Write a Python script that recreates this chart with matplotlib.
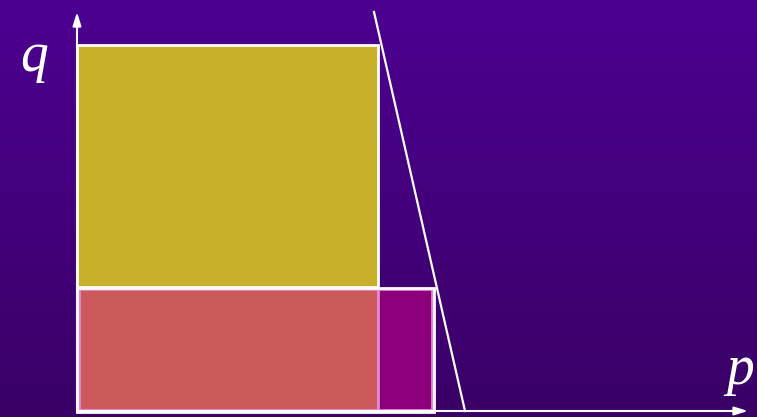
import matplotlib
matplotlib.use("Agg")
import matplotlib.pyplot as plt
import matplotlib.patches as patches
import numpy as np

# quantities and prices (arbitrary units)
p_low = 3.01
p_high = 3.57
q_high = 3.66
q_low = 1.24
demand_p = [2.97, 3.88]
demand_q = [3.99, 0.0]

fig = plt.figure(figsize=(7.57, 4.17), dpi=100)
ax = fig.add_axes([0, 0, 1, 1])
ax.set_xlim(-0.77, 6.80)
ax.set_ylim(-0.06, 4.11)
ax.axis('off')

# background gradient
top = np.array([0x4d, 0x00, 0x91]) / 255
bot = np.array([0x3a, 0x00, 0x66]) / 255
t = np.linspace(0, 1, 256)[:, None]
grad = (top * (1 - t) + bot * t)[:, None, :]
ax.imshow(grad, extent=[-0.77, 6.80, -0.06, 4.11], aspect='auto', zorder=0)

# rectangles
ax.add_patch(patches.Rectangle((0, q_low), p_low, q_high - q_low,
                               facecolor='#c8b02a', edgecolor='white', lw=2, zorder=2))
ax.add_patch(patches.Rectangle((0.015, 0.015), p_low - 0.015, q_low - 0.03,
                               facecolor='#cd5a5a', edgecolor='#e48ad2', lw=2, zorder=2))
ax.add_patch(patches.Rectangle((p_low, 0.015), p_high - p_low - 0.015, q_low - 0.03,
                               facecolor='#8b007a', edgecolor='#e48ad2', lw=2, zorder=2))
ax.add_patch(patches.Rectangle((0, -0.01), p_high, q_low,
                               facecolor='none', edgecolor='white', lw=2, zorder=3))

# demand line
ax.plot(demand_p, demand_q, color='white', lw=1.6, zorder=3)

# axes arrows
ax.annotate('', xy=(0, 3.99), xytext=(0, -0.01),
            arrowprops=dict(arrowstyle='-|>,head_length=0.8,head_width=0.25',
                            color='white', lw=1.5, shrinkA=0, shrinkB=0), zorder=4)
ax.annotate('', xy=(6.71, 0.0), xytext=(0, 0.0),
            arrowprops=dict(arrowstyle='-|>,head_length=0.8,head_width=0.25',
                            color='white', lw=1.5, shrinkA=0, shrinkB=0), zorder=4)

ax.text(-0.43, 3.54, 'q', color='white', fontsize=40, family='Liberation Serif',
        style='italic', ha='center', va='center')
ax.text(6.63, 0.41, 'p', color='white', fontsize=40, family='Liberation Serif',
        style='italic', ha='center', va='center')

fig.savefig('out.png', dpi=100)
